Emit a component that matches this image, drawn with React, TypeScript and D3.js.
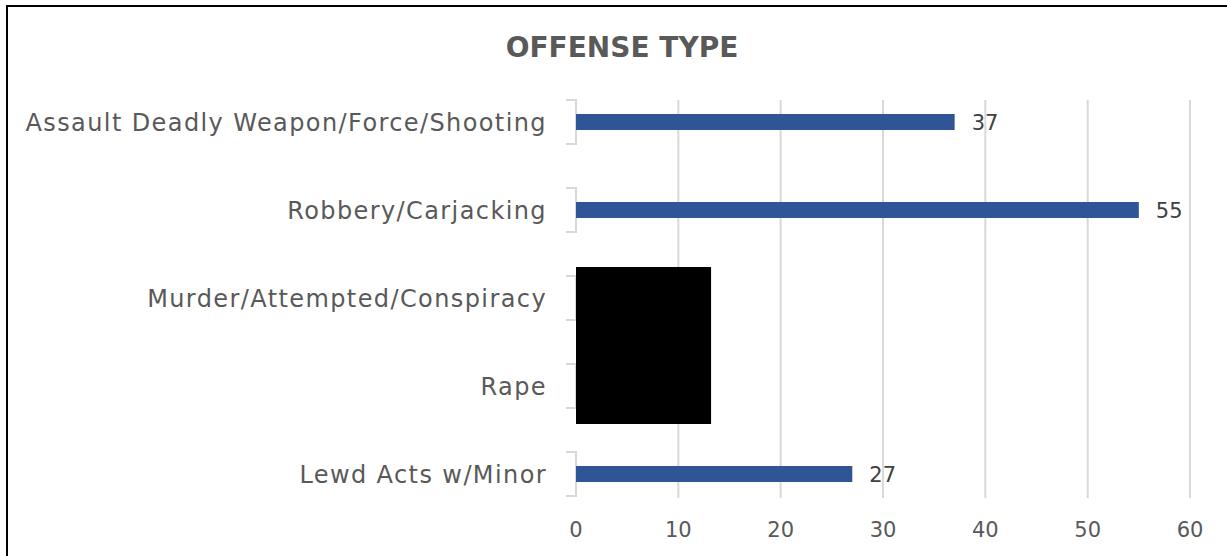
import * as d3 from "d3";

// Offense counts; the two middle bars are redacted in the source
const categories = [
  "Assault Deadly Weapon/Force/Shooting",
  "Robbery/Carjacking",
  "Murder/Attempted/Conspiracy",
  "Rape",
  "Lewd Acts w/Minor",
];
const values: (number | null)[] = [37, 55, null, null, 27];
const redactedTo = 13.2; // right edge of the black box, in axis units
const xTicks = [0, 10, 20, 30, 40, 50, 60];

const W = 1227;
const H = 556;
const margin = { top: 78, right: 37, bottom: 38, left: 576 };

const App = () => {
  const x = d3
    .scaleLinear()
    .domain([0, 60])
    .range([margin.left, W - margin.right]);
  const y = d3
    .scaleBand<string>()
    .domain(categories)
    .range([margin.top, H - margin.bottom])
    .padding(0);

  const step = y.step();
  const half = step / 4; // bracket half-height
  const barH = 16;
  const center = (c: string) => (y(c) || 0) + y.bandwidth() / 2;
  const gridTop = center(categories[0]) - half;
  const gridBottom = center(categories[categories.length - 1]) + half + 2;

  const textColor = "#595959";
  const font = "'DejaVu Sans', sans-serif";

  const redactTop = center(categories[2]) - 31;
  const redactBottom = center(categories[3]) + 38;

  return (
    <svg
      width={W}
      height={H}
      style={{ position: "absolute", left: 0, top: 0, background: "#fff" }}
    >
      <rect x={7} y={6} width={W + 10} height={H + 10} fill="#fff" stroke="#000" strokeWidth={2} />

      <text
        x={622}
        y={57}
        textAnchor="middle"
        fontFamily={font}
        fontWeight="bold"
        fontSize={28}
        fill={textColor}
      >
        OFFENSE TYPE
      </text>

      {/* gridlines (no line at zero, the axis stands there) */}
      {xTicks
        .filter((t) => t > 0)
        .map((t) => (
          <line
            key={t}
            x1={x(t)}
            x2={x(t)}
            y1={gridTop}
            y2={gridBottom}
            stroke="#d9d9d9"
            strokeWidth={2}
          />
        ))}

      {/* category axis brackets */}
      {categories.map((c) => {
        const cy = center(c);
        const x0 = x(0);
        return (
          <path
            key={c}
            d={`M${x0 - 10},${cy - half}H${x0}V${cy + half}H${x0 - 10}`}
            fill="none"
            stroke="#d9d9d9"
            strokeWidth={2}
          />
        );
      })}

      {/* bars and values */}
      {categories.map((c, i) => {
        const v = values[i];
        if (v == null) return null;
        const cy = center(c);
        return (
          <g key={c}>
            <rect
              x={x(0)}
              y={cy - barH / 2}
              width={x(v) - x(0)}
              height={barH}
              fill="#2f5597"
            />
            <text
              x={x(v) + 17}
              y={cy}
              dy="0.36em"
              fontFamily={font}
              fontSize={21}
              fill="#404040"
            >
              {v}
            </text>
          </g>
        );
      })}

      {/* redaction box */}
      <rect
        x={x(0)}
        y={redactTop}
        width={x(redactedTo) - x(0)}
        height={redactBottom - redactTop}
        fill="#000"
      />

      {/* category labels */}
      {categories.map((c) => (
        <text
          key={c}
          x={x(0) - 29}
          y={center(c)}
          dy="0.36em"
          textAnchor="end"
          fontFamily={font}
          fontSize={24}
          letterSpacing={1.4}
          fill={textColor}
        >
          {c}
        </text>
      ))}

      {/* value axis labels */}
      {xTicks.map((t) => (
        <text
          key={t}
          x={x(t)}
          y={529}
          dy="0.36em"
          textAnchor="middle"
          fontFamily={font}
          fontSize={21}
          fill={textColor}
        >
          {t}
        </text>
      ))}
    </svg>
  );
};

export default App;
